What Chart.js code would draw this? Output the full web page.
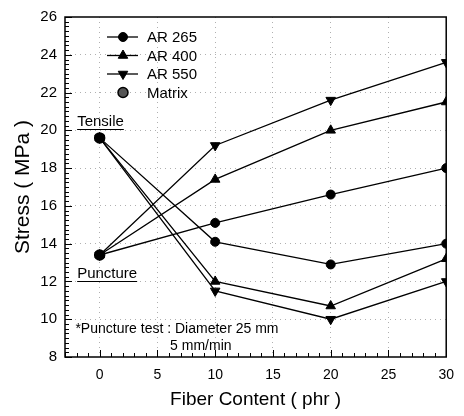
<!DOCTYPE html>
<html>
<head>
<meta charset="utf-8">
<script src="https://cdn.jsdelivr.net/npm/chart.js@4.4.1/dist/chart.umd.min.js"></script>
<style>
html, body { margin: 0; padding: 0; background: #fff; }
canvas { display: block; }
</style>
</head>
<body>
<canvas id="stressChart" width="464" height="416"></canvas>
<script>
// Data
const fiberContent = [0, 10, 20, 30];
const ar265Tensile = [19.6, 14.1, 12.9, 14.0];
const ar265Puncture = [13.4, 15.1, 16.6, 18.0];
const ar400Tensile = [19.6, 12.0, 10.7, 13.2];
const ar400Puncture = [13.4, 17.4, 20.0, 21.5];
const ar550Tensile = [19.6, 11.5, 10.0, 12.0];
const ar550Puncture = [13.4, 19.2, 21.6, 23.6];
const matrixX = [0, 0];
const matrixY = [19.6, 13.4];
const xTickLabels = [0, 5, 10, 15, 20, 25, 30];
const yTickLabels = [8, 10, 12, 14, 16, 18, 20, 22, 24, 26];

const FONT = '"Liberation Sans", Arial, sans-serif';

function toPoints(xs, ys) {
    return ys.map((y, i) => ({ x: xs[i], y: y }));
}

function series(label, ys, style, rot, legend) {
    return {
        label: label,
        data: toPoints(fiberContent, ys),
        showLine: true,
        borderColor: '#000',
        borderWidth: 1.3,
        backgroundColor: '#000',
        pointStyle: style,
        rotation: rot,
        pointRadius: style === 'circle' ? 4.5 : 5.5,
        pointBorderWidth: 1,
        pointBorderColor: '#000',
        pointBackgroundColor: '#000',
        inLegend: legend
    };
}

const datasets = [
    series('AR 265', ar265Puncture, 'circle', 0, true),
    series('AR 265', ar265Tensile, 'circle', 0, false),
    series('AR 400', ar400Puncture, 'triangle', 0, true),
    series('AR 400', ar400Tensile, 'triangle', 0, false),
    series('AR 550', ar550Puncture, 'triangle', 180, true),
    series('AR 550', ar550Tensile, 'triangle', 180, false),
    {
        label: 'Matrix',
        data: toPoints(matrixX, matrixY),
        showLine: false,
        pointStyle: 'circle',
        rotation: 0,
        pointRadius: 5,
        pointBorderWidth: 1.5,
        pointBorderColor: '#000',
        pointBackgroundColor: '#555',
        backgroundColor: '#555',
        borderColor: '#000',
        inLegend: true
    }
];

// frame, inside ticks, legend and notes
const extrasPlugin = {
    id: 'extras',
    afterDraw(chart) {
        const ctx = chart.ctx;
        const a = chart.chartArea;
        const xs = chart.scales.x;
        const ys = chart.scales.y;
        ctx.save();

        // frame
        ctx.strokeStyle = '#000';
        ctx.lineWidth = 1.5;
        ctx.strokeRect(a.left, a.top, a.right - a.left, a.bottom - a.top);

        // ticks inside (bottom and left)
        ctx.lineWidth = 1;
        ctx.beginPath();
        for (let v = Math.ceil(xs.min); v <= xs.max; v++) {
            const px = Math.round(xs.getPixelForValue(v)) + 0.5;
            const len = xTickLabels.includes(v) ? 7 : 4;
            ctx.moveTo(px, a.bottom);
            ctx.lineTo(px, a.bottom - len);
        }
        for (let v = ys.min; v <= ys.max + 0.001; v += 0.25) {
            const py = Math.round(ys.getPixelForValue(v)) + 0.5;
            const len = yTickLabels.includes(Math.round(v * 100) / 100) ? 7 : 4;
            ctx.moveTo(a.left, py);
            ctx.lineTo(a.left + len, py);
        }
        ctx.stroke();

        // legend
        const lx = a.left + 42;
        const shown = chart.data.datasets.filter(d => d.inLegend);
        ctx.font = '15px ' + FONT;
        ctx.textBaseline = 'middle';
        shown.forEach((d, i) => {
            const ly = a.top + 20 + i * 18.5;
            if (d.showLine) {
                ctx.strokeStyle = '#000';
                ctx.lineWidth = 1.3;
                ctx.beginPath();
                ctx.moveTo(lx, ly);
                ctx.lineTo(lx + 31, ly);
                ctx.stroke();
            }
            ctx.fillStyle = d.pointBackgroundColor;
            ctx.strokeStyle = d.pointBorderColor;
            ctx.lineWidth = d.pointBorderWidth;
            Chart.helpers.drawPoint(ctx, {
                pointStyle: d.pointStyle,
                radius: d.pointRadius,
                rotation: d.rotation,
                borderWidth: d.pointBorderWidth
            }, lx + 16, ly);
            ctx.fillStyle = '#000';
            ctx.fillText(d.label, lx + 40, ly + 1);
        });

        // labels Tensile / Puncture
        ctx.textBaseline = 'alphabetic';
        ctx.font = '15px ' + FONT;
        const notes = [
            { text: 'Tensile', x: -1.95, y: 20.24 },
            { text: 'Puncture', x: -1.95, y: 12.18 }
        ];
        ctx.lineWidth = 1;
        notes.forEach(n => {
            const px = xs.getPixelForValue(n.x);
            const py = ys.getPixelForValue(n.y);
            ctx.fillText(n.text, px, py);
            const w = ctx.measureText(n.text).width;
            ctx.beginPath();
            ctx.moveTo(px, Math.round(py + 3) + 0.5);
            ctx.lineTo(px + w, Math.round(py + 3) + 0.5);
            ctx.stroke();
        });

        ctx.font = '14px ' + FONT;
        ctx.fillText('*Puncture test : Diameter 25 mm', xs.getPixelForValue(-2.1), ys.getPixelForValue(9.25));
        ctx.fillText('5 mm/min', xs.getPixelForValue(6.1), ys.getPixelForValue(8.36));
        ctx.restore();
    }
};

const ctx = document.getElementById('stressChart').getContext('2d');
new Chart(ctx, {
    type: 'scatter',
    data: { datasets: datasets },
    options: {
        responsive: false,
        animation: false,
        layout: { padding: { left: 0, right: 12, top: 13, bottom: 0 } },
        plugins: {
            legend: { display: false },
            tooltip: { enabled: false }
        },
        scales: {
            x: {
                type: 'linear',
                min: -3,
                max: 30,
                afterFit: s => { s.height = 59; },
                afterBuildTicks: s => {
                    s.ticks = [];
                    for (let v = -3; v <= 30; v++) s.ticks.push({ value: v });
                },
                ticks: {
                    color: '#000',
                    font: { size: 14, family: FONT },
                    padding: 10,
                    maxRotation: 0,
                    autoSkip: false,
                    callback: v => xTickLabels.includes(v) ? String(v) : ''
                },
                grid: {
                    drawTicks: false,
                    color: c => (xTickLabels.includes(c.tick.value) && c.tick.value < 30) ? '#b0b0b0' : 'rgba(0,0,0,0)',
                    lineWidth: 1
                },
                border: { display: false, dash: [1, 4] },
                title: {
                    display: true,
                    text: 'Fiber Content ( phr )',
                    color: '#000',
                    font: { size: 19, family: FONT },
                    padding: { top: 0, bottom: 5 }
                }
            },
            y: {
                min: 8,
                max: 26,
                afterFit: s => { s.width = 65; },
                afterBuildTicks: s => {
                    s.ticks = yTickLabels.map(v => ({ value: v }));
                },
                ticks: {
                    color: '#000',
                    font: { size: 15, family: FONT },
                    padding: 8
                },
                grid: {
                    drawTicks: false,
                    color: c => (c.tick.value > 8 && c.tick.value < 26) ? '#b0b0b0' : 'rgba(0,0,0,0)',
                    lineWidth: 1
                },
                border: { display: false, dash: [1, 4] },
                title: {
                    display: true,
                    text: 'Stress ( MPa )',
                    color: '#000',
                    font: { size: 21, family: FONT },
                    padding: { top: 11, bottom: 0 }
                }
            }
        }
    },
    plugins: [extrasPlugin]
});
</script>
</body>
</html>
